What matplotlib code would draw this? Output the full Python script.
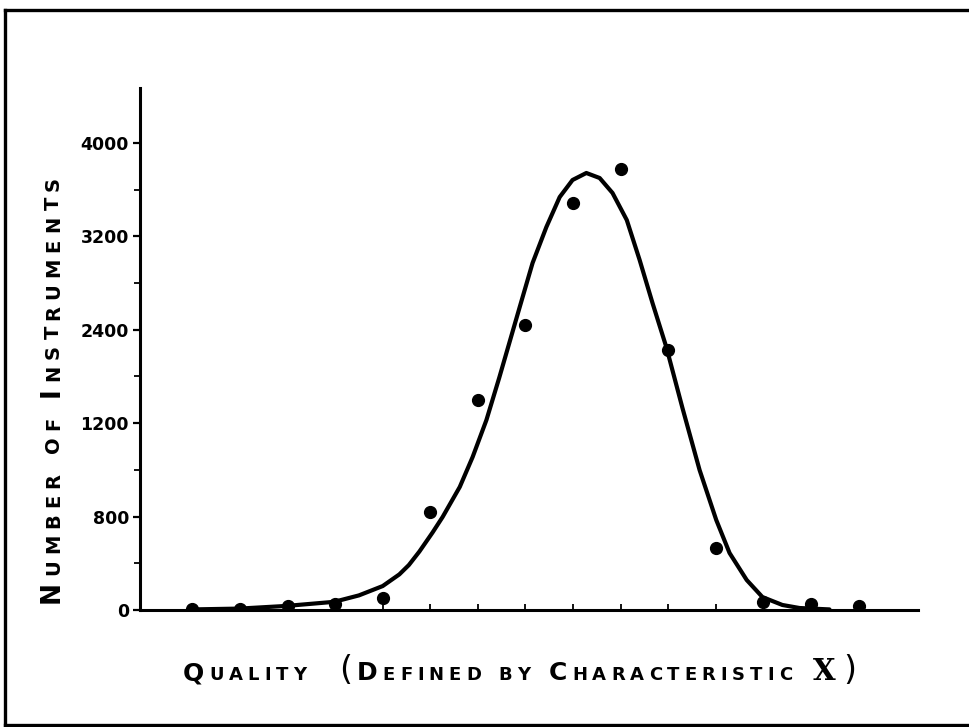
import numpy as np
import matplotlib.pyplot as plt
from matplotlib.lines import Line2D
from matplotlib.transforms import IdentityTransform

# observed counts per quality class
quality = [1, 2, 3, 4, 5, 6, 7, 8, 9, 10, 11, 12, 13, 14, 15]
counts = [5, 10, 30, 50, 100, 840, 1800, 2440, 3486, 3777, 2227, 531, 69, 51, 34]

# hand-fitted curve through the counts
curve_x = [1.00, 1.99, 2.98, 3.98, 4.50, 5.00, 5.35, 5.55, 5.77, 6.05, 6.26, 6.62,
           6.89, 7.18, 7.45, 7.88, 8.15, 8.44, 8.72, 8.99, 9.28, 9.56, 9.83,
           10.13, 10.40, 10.67, 10.96, 11.30, 11.66, 12.01, 12.29, 12.65, 12.98,
           13.40, 13.76, 14.39]
curve_y = [5, 12, 35, 70, 125, 205, 305, 385, 500, 665, 797, 1054,
           1310, 1627, 1990, 2595, 2972, 3280, 3537, 3683, 3743, 3700, 3572,
           3340, 2998, 2630, 2253, 1730, 1199, 771, 488, 257, 111,
           43, 17, 5]

ytick_vals = [0, 800, 1600, 2400, 3200, 4000]
ytick_text = ['0', '800', '1200', '2400', '3200', '4000']

W, H = 969, 727
fig = plt.figure(figsize=(W / 100, H / 100), dpi=100)
ax = fig.add_axes([140 / W, 1 - 610 / H, 778 / W, 522 / H])

ax.plot(curve_x, curve_y, color='black', lw=3.0, solid_capstyle='round',
        solid_joinstyle='round', zorder=3)
ax.plot(quality, counts, 'o', color='black', ms=8.5, zorder=4)

ax.set_xlim(-0.1, 16.25)
ax.set_ylim(0, 4471)
for side in ['top', 'right']:
    ax.spines[side].set_visible(False)
for side in ['left', 'bottom']:
    ax.spines[side].set_linewidth(2.2)

ax.set_xticks(quality)
ax.set_xticklabels([])
ax.tick_params(axis='x', direction='in', length=4, width=1.3)
ax.set_yticks(ytick_vals)
ax.set_yticklabels(ytick_text, fontsize=12.5, fontweight='bold')
ax.set_yticks([400, 1200, 2000, 2800, 3600], minor=True)
ax.tick_params(axis='y', which='major', direction='out', length=5, width=1.6, pad=3)
ax.tick_params(axis='y', which='minor', direction='out', length=4, width=1.3)

# border around the sheet
lw_frame = 2.4
fig.add_artist(Line2D([5 / W, 5 / W], [1 - 725 / H, 1 - 10 / H], color='black',
                      lw=lw_frame, transform=fig.transFigure))
fig.add_artist(Line2D([5 / W, 1.0], [1 - 10 / H, 1 - 10 / H], color='black',
                      lw=lw_frame, transform=fig.transFigure))
fig.add_artist(Line2D([5 / W, 1.0], [1 - 725 / H, 1 - 725 / H], color='black',
                      lw=lw_frame, transform=fig.transFigure))

renderer = fig.canvas.get_renderer()
SANS, SERIF = 'DejaVu Sans', 'DejaVu Serif'


def lettering(x, y, pieces, rotation=0, tracking=4):
    # place each character by hand so letter spacing and small caps can be set;
    # a number in the list is an extra gap in pixels
    ang = np.deg2rad(rotation)
    dx, dy = np.cos(ang), np.sin(ang)
    pos = 0.0
    for piece in pieces:
        if not isinstance(piece, tuple):
            pos += piece
            continue
        s, size, fam, weight = piece
        for ch in s:
            t = fig.text(x + pos * dx, H - y + pos * dy, ch, fontsize=size,
                         family=fam, fontweight=weight, rotation=rotation,
                         rotation_mode='anchor', ha='left', va='baseline',
                         transform=IdentityTransform())
            bb = t.get_window_extent(renderer)
            pos += (bb.width if rotation == 0 else bb.height) + tracking


big, small = 18, 13
lettering(183, 680, [('Q', big, SANS, 'bold'), ('UALITY', small, SANS, 'bold'), 28,
                     ('(', 24, SANS, 'normal'),
                     ('D', big, SANS, 'bold'), ('EFINED', small, SANS, 'bold'), 12,
                     ('BY', small, SANS, 'bold'), 14,
                     ('C', big, SANS, 'bold'),
                     ('HARACTERISTIC', small, SANS, 'bold'), 16,
                     ('X', 21, SERIF, 'bold'), 2,
                     (')', 24, SANS, 'normal')], tracking=5)

lettering(59, 603, [('N', 19, SANS, 'bold'), ('UMBER', 14, SANS, 'bold'), 14,
                    ('OF', 14, SANS, 'bold'), 14, ('I', 19, SANS, 'bold'),
                    ('NSTRUMENTS', 14, SANS, 'bold')],
          rotation=90, tracking=6)

fig.savefig('out.png', dpi=100)
